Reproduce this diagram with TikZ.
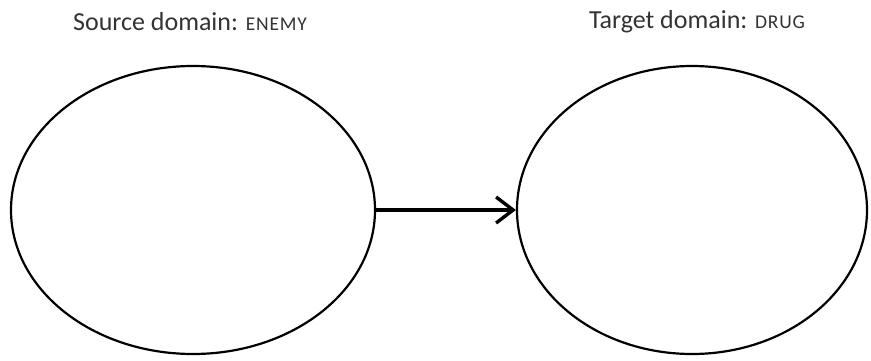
\documentclass[tikz,border=0pt]{standalone}
\usepackage{fontspec}
\setmainfont{Carlito}
\usetikzlibrary{arrows.meta, positioning, shapes.geometric}
\newcommand{\domname}[1]{{\fontsize{19.5}{22}\selectfont\addfontfeature{LetterSpace=4}#1}}

\begin{document}
\begin{tikzpicture}[x=1pt, y=-1pt,
  domainbox/.style={draw, ellipse, line width=2.2pt, inner sep=0pt},
  title/.style={font=\fontsize{26}{30}\selectfont, text=black!80},
  arr/.style={-{Straight Barb[length=17pt, width=26pt, line width=3.4pt]}, line width=3.8pt}
]
\useasboundingbox (0,0) rectangle (871,361);
\node[domainbox, minimum width=364pt, minimum height=288pt] (source) at (193,210) {};
\node[domainbox, minimum width=350pt, minimum height=288pt] (target) at (692,210) {};

\node[title] (srclabel) at (190,22) {Source domain: \domname{ENEMY}};
\node[title] (tgtlabel) at (697,22) {Target domain: \domname{DRUG}};

\draw[arr] (source.east) -- (target.west);
\end{tikzpicture}
\end{document}
